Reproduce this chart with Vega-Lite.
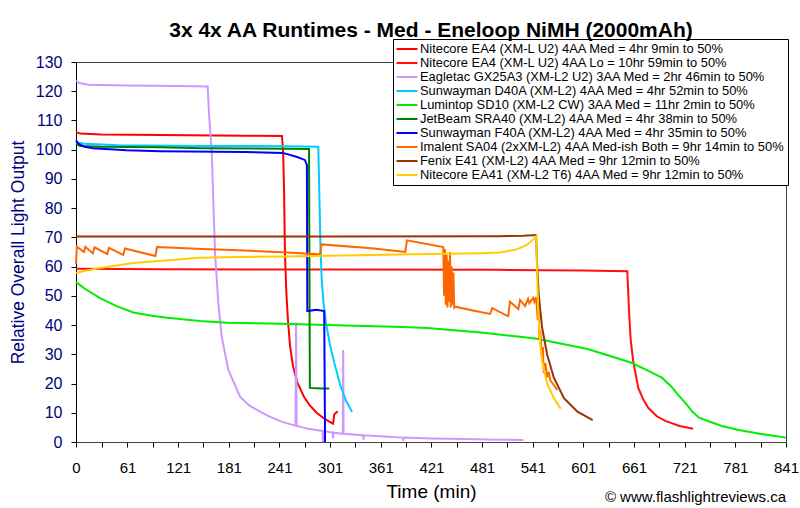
{
"$schema": "https://vega.github.io/schema/vega-lite/v6.json",
"width": 710, "height": 380,
"autosize": {"type": "none"},
"padding": {"left": 76, "top": 62, "right": 14, "bottom": 66},
"background": "#FFFFFF",
"config": {
  "font": "Liberation Sans",
  "view": {"stroke": "#444444", "strokeWidth": 1},
  "axis": {"grid": false, "domainColor": "#000000", "tickColor": "#000000", "labelFont": "Liberation Sans", "titleFont": "Liberation Sans", "titleFontWeight": "normal"}
},
"title": {"text": "3x 4x AA Runtimes - Med - Eneloop NiMH (2000mAh)", "fontSize": 21, "fontWeight": "bold", "font": "Liberation Sans", "color": "#000000", "anchor": "middle", "frame": "group", "offset": -2},
"datasets": {
"runs": [
{"s":"Nitecore EA4 (XM-L U2) 4AA Med = 4hr 9min to 50%","t":0,"v":106},
{"s":"Nitecore EA4 (XM-L U2) 4AA Med = 4hr 9min to 50%","t":5,"v":105.5},
{"s":"Nitecore EA4 (XM-L U2) 4AA Med = 4hr 9min to 50%","t":30,"v":105.2},
{"s":"Nitecore EA4 (XM-L U2) 4AA Med = 4hr 9min to 50%","t":100,"v":105},
{"s":"Nitecore EA4 (XM-L U2) 4AA Med = 4hr 9min to 50%","t":200,"v":104.8},
{"s":"Nitecore EA4 (XM-L U2) 4AA Med = 4hr 9min to 50%","t":244,"v":104.7},
{"s":"Nitecore EA4 (XM-L U2) 4AA Med = 4hr 9min to 50%","t":245.5,"v":98},
{"s":"Nitecore EA4 (XM-L U2) 4AA Med = 4hr 9min to 50%","t":246.5,"v":85},
{"s":"Nitecore EA4 (XM-L U2) 4AA Med = 4hr 9min to 50%","t":247.5,"v":65},
{"s":"Nitecore EA4 (XM-L U2) 4AA Med = 4hr 9min to 50%","t":249,"v":52},
{"s":"Nitecore EA4 (XM-L U2) 4AA Med = 4hr 9min to 50%","t":251,"v":42},
{"s":"Nitecore EA4 (XM-L U2) 4AA Med = 4hr 9min to 50%","t":253.5,"v":33},
{"s":"Nitecore EA4 (XM-L U2) 4AA Med = 4hr 9min to 50%","t":257,"v":26},
{"s":"Nitecore EA4 (XM-L U2) 4AA Med = 4hr 9min to 50%","t":262,"v":20.5},
{"s":"Nitecore EA4 (XM-L U2) 4AA Med = 4hr 9min to 50%","t":270,"v":15.5},
{"s":"Nitecore EA4 (XM-L U2) 4AA Med = 4hr 9min to 50%","t":277,"v":12.5},
{"s":"Nitecore EA4 (XM-L U2) 4AA Med = 4hr 9min to 50%","t":285,"v":10},
{"s":"Nitecore EA4 (XM-L U2) 4AA Med = 4hr 9min to 50%","t":293,"v":8.2},
{"s":"Nitecore EA4 (XM-L U2) 4AA Med = 4hr 9min to 50%","t":300,"v":7},
{"s":"Nitecore EA4 (XM-L U2) 4AA Med = 4hr 9min to 50%","t":304.5,"v":6.3},
{"s":"Nitecore EA4 (XM-L U2) 4AA Med = 4hr 9min to 50%","t":306,"v":9.5},
{"s":"Nitecore EA4 (XM-L U2) 4AA Med = 4hr 9min to 50%","t":308,"v":10},
{"s":"Nitecore EA4 (XM-L U2) 4AA Med = 4hr 9min to 50%","t":310,"v":10.5},
{"s":"Nitecore EA4 (XM-L U2) 4AA Lo = 10hr 59min to 50%","t":0,"v":59.3},
{"s":"Nitecore EA4 (XM-L U2) 4AA Lo = 10hr 59min to 50%","t":100,"v":59.1},
{"s":"Nitecore EA4 (XM-L U2) 4AA Lo = 10hr 59min to 50%","t":300,"v":59},
{"s":"Nitecore EA4 (XM-L U2) 4AA Lo = 10hr 59min to 50%","t":500,"v":58.9},
{"s":"Nitecore EA4 (XM-L U2) 4AA Lo = 10hr 59min to 50%","t":600,"v":58.7},
{"s":"Nitecore EA4 (XM-L U2) 4AA Lo = 10hr 59min to 50%","t":653,"v":58.4},
{"s":"Nitecore EA4 (XM-L U2) 4AA Lo = 10hr 59min to 50%","t":654,"v":52},
{"s":"Nitecore EA4 (XM-L U2) 4AA Lo = 10hr 59min to 50%","t":655,"v":45},
{"s":"Nitecore EA4 (XM-L U2) 4AA Lo = 10hr 59min to 50%","t":657,"v":35},
{"s":"Nitecore EA4 (XM-L U2) 4AA Lo = 10hr 59min to 50%","t":660,"v":27.7},
{"s":"Nitecore EA4 (XM-L U2) 4AA Lo = 10hr 59min to 50%","t":666,"v":18.5},
{"s":"Nitecore EA4 (XM-L U2) 4AA Lo = 10hr 59min to 50%","t":672,"v":14.5},
{"s":"Nitecore EA4 (XM-L U2) 4AA Lo = 10hr 59min to 50%","t":678,"v":11.6},
{"s":"Nitecore EA4 (XM-L U2) 4AA Lo = 10hr 59min to 50%","t":688,"v":8.8},
{"s":"Nitecore EA4 (XM-L U2) 4AA Lo = 10hr 59min to 50%","t":698,"v":7.2},
{"s":"Nitecore EA4 (XM-L U2) 4AA Lo = 10hr 59min to 50%","t":715,"v":5.5},
{"s":"Nitecore EA4 (XM-L U2) 4AA Lo = 10hr 59min to 50%","t":731,"v":4.5},
{"s":"Eagletac GX25A3 (XM-L2 U2) 3AA Med = 2hr 46min to 50%","t":0,"v":123.5},
{"s":"Eagletac GX25A3 (XM-L2 U2) 3AA Med = 2hr 46min to 50%","t":4,"v":122.8},
{"s":"Eagletac GX25A3 (XM-L2 U2) 3AA Med = 2hr 46min to 50%","t":15,"v":122.2},
{"s":"Eagletac GX25A3 (XM-L2 U2) 3AA Med = 2hr 46min to 50%","t":60,"v":122},
{"s":"Eagletac GX25A3 (XM-L2 U2) 3AA Med = 2hr 46min to 50%","t":120,"v":121.8},
{"s":"Eagletac GX25A3 (XM-L2 U2) 3AA Med = 2hr 46min to 50%","t":156,"v":121.6},
{"s":"Eagletac GX25A3 (XM-L2 U2) 3AA Med = 2hr 46min to 50%","t":157.6,"v":112},
{"s":"Eagletac GX25A3 (XM-L2 U2) 3AA Med = 2hr 46min to 50%","t":160.8,"v":99},
{"s":"Eagletac GX25A3 (XM-L2 U2) 3AA Med = 2hr 46min to 50%","t":164.7,"v":64.6},
{"s":"Eagletac GX25A3 (XM-L2 U2) 3AA Med = 2hr 46min to 50%","t":168.6,"v":47.5},
{"s":"Eagletac GX25A3 (XM-L2 U2) 3AA Med = 2hr 46min to 50%","t":172.6,"v":36},
{"s":"Eagletac GX25A3 (XM-L2 U2) 3AA Med = 2hr 46min to 50%","t":180.5,"v":24.6},
{"s":"Eagletac GX25A3 (XM-L2 U2) 3AA Med = 2hr 46min to 50%","t":194.3,"v":15.5},
{"s":"Eagletac GX25A3 (XM-L2 U2) 3AA Med = 2hr 46min to 50%","t":205,"v":12.5},
{"s":"Eagletac GX25A3 (XM-L2 U2) 3AA Med = 2hr 46min to 50%","t":218,"v":10.4},
{"s":"Eagletac GX25A3 (XM-L2 U2) 3AA Med = 2hr 46min to 50%","t":230,"v":8.6},
{"s":"Eagletac GX25A3 (XM-L2 U2) 3AA Med = 2hr 46min to 50%","t":245,"v":6.8},
{"s":"Eagletac GX25A3 (XM-L2 U2) 3AA Med = 2hr 46min to 50%","t":260,"v":5.6},
{"s":"Eagletac GX25A3 (XM-L2 U2) 3AA Med = 2hr 46min to 50%","t":260.7,"v":41},
{"s":"Eagletac GX25A3 (XM-L2 U2) 3AA Med = 2hr 46min to 50%","t":261.4,"v":5.5},
{"s":"Eagletac GX25A3 (XM-L2 U2) 3AA Med = 2hr 46min to 50%","t":275,"v":4.5},
{"s":"Eagletac GX25A3 (XM-L2 U2) 3AA Med = 2hr 46min to 50%","t":292,"v":3.8},
{"s":"Eagletac GX25A3 (XM-L2 U2) 3AA Med = 2hr 46min to 50%","t":292.5,"v":0},
{"s":"Eagletac GX25A3 (XM-L2 U2) 3AA Med = 2hr 46min to 50%","t":293,"v":3.8},
{"s":"Eagletac GX25A3 (XM-L2 U2) 3AA Med = 2hr 46min to 50%","t":304,"v":3.2},
{"s":"Eagletac GX25A3 (XM-L2 U2) 3AA Med = 2hr 46min to 50%","t":304.5,"v":1.2},
{"s":"Eagletac GX25A3 (XM-L2 U2) 3AA Med = 2hr 46min to 50%","t":305,"v":3.2},
{"s":"Eagletac GX25A3 (XM-L2 U2) 3AA Med = 2hr 46min to 50%","t":316,"v":2.8},
{"s":"Eagletac GX25A3 (XM-L2 U2) 3AA Med = 2hr 46min to 50%","t":316.5,"v":31.5},
{"s":"Eagletac GX25A3 (XM-L2 U2) 3AA Med = 2hr 46min to 50%","t":317,"v":2.8},
{"s":"Eagletac GX25A3 (XM-L2 U2) 3AA Med = 2hr 46min to 50%","t":340,"v":2.3},
{"s":"Eagletac GX25A3 (XM-L2 U2) 3AA Med = 2hr 46min to 50%","t":340.5,"v":0.8},
{"s":"Eagletac GX25A3 (XM-L2 U2) 3AA Med = 2hr 46min to 50%","t":341,"v":2.3},
{"s":"Eagletac GX25A3 (XM-L2 U2) 3AA Med = 2hr 46min to 50%","t":370,"v":1.8},
{"s":"Eagletac GX25A3 (XM-L2 U2) 3AA Med = 2hr 46min to 50%","t":387,"v":1.5},
{"s":"Eagletac GX25A3 (XM-L2 U2) 3AA Med = 2hr 46min to 50%","t":387.5,"v":0.5},
{"s":"Eagletac GX25A3 (XM-L2 U2) 3AA Med = 2hr 46min to 50%","t":388,"v":1.5},
{"s":"Eagletac GX25A3 (XM-L2 U2) 3AA Med = 2hr 46min to 50%","t":420,"v":1.2},
{"s":"Eagletac GX25A3 (XM-L2 U2) 3AA Med = 2hr 46min to 50%","t":460,"v":1},
{"s":"Eagletac GX25A3 (XM-L2 U2) 3AA Med = 2hr 46min to 50%","t":500,"v":0.8},
{"s":"Eagletac GX25A3 (XM-L2 U2) 3AA Med = 2hr 46min to 50%","t":530,"v":0.7},
{"s":"Sunwayman D40A (XM-L2) 4AA Med = 4hr 52min to 50%","t":0,"v":102.5},
{"s":"Sunwayman D40A (XM-L2) 4AA Med = 4hr 52min to 50%","t":10,"v":102},
{"s":"Sunwayman D40A (XM-L2) 4AA Med = 4hr 52min to 50%","t":50,"v":101.5},
{"s":"Sunwayman D40A (XM-L2) 4AA Med = 4hr 52min to 50%","t":150,"v":101.3},
{"s":"Sunwayman D40A (XM-L2) 4AA Med = 4hr 52min to 50%","t":250,"v":101.2},
{"s":"Sunwayman D40A (XM-L2) 4AA Med = 4hr 52min to 50%","t":287,"v":101},
{"s":"Sunwayman D40A (XM-L2) 4AA Med = 4hr 52min to 50%","t":288,"v":88},
{"s":"Sunwayman D40A (XM-L2) 4AA Med = 4hr 52min to 50%","t":289.5,"v":68},
{"s":"Sunwayman D40A (XM-L2) 4AA Med = 4hr 52min to 50%","t":291,"v":56},
{"s":"Sunwayman D40A (XM-L2) 4AA Med = 4hr 52min to 50%","t":293,"v":48},
{"s":"Sunwayman D40A (XM-L2) 4AA Med = 4hr 52min to 50%","t":296,"v":41},
{"s":"Sunwayman D40A (XM-L2) 4AA Med = 4hr 52min to 50%","t":301,"v":33},
{"s":"Sunwayman D40A (XM-L2) 4AA Med = 4hr 52min to 50%","t":306,"v":27},
{"s":"Sunwayman D40A (XM-L2) 4AA Med = 4hr 52min to 50%","t":313,"v":19.5},
{"s":"Sunwayman D40A (XM-L2) 4AA Med = 4hr 52min to 50%","t":320,"v":14},
{"s":"Sunwayman D40A (XM-L2) 4AA Med = 4hr 52min to 50%","t":327,"v":10.3},
{"s":"Lumintop SD10 (XM-L2 CW) 3AA Med = 11hr 2min to 50%","t":0,"v":54.7},
{"s":"Lumintop SD10 (XM-L2 CW) 3AA Med = 11hr 2min to 50%","t":10,"v":52.5},
{"s":"Lumintop SD10 (XM-L2 CW) 3AA Med = 11hr 2min to 50%","t":28,"v":49.3},
{"s":"Lumintop SD10 (XM-L2 CW) 3AA Med = 11hr 2min to 50%","t":48,"v":46.5},
{"s":"Lumintop SD10 (XM-L2 CW) 3AA Med = 11hr 2min to 50%","t":68,"v":44.3},
{"s":"Lumintop SD10 (XM-L2 CW) 3AA Med = 11hr 2min to 50%","t":90,"v":43.2},
{"s":"Lumintop SD10 (XM-L2 CW) 3AA Med = 11hr 2min to 50%","t":108,"v":42.5},
{"s":"Lumintop SD10 (XM-L2 CW) 3AA Med = 11hr 2min to 50%","t":147,"v":41.4},
{"s":"Lumintop SD10 (XM-L2 CW) 3AA Med = 11hr 2min to 50%","t":179,"v":40.8},
{"s":"Lumintop SD10 (XM-L2 CW) 3AA Med = 11hr 2min to 50%","t":230,"v":40.5},
{"s":"Lumintop SD10 (XM-L2 CW) 3AA Med = 11hr 2min to 50%","t":297,"v":40},
{"s":"Lumintop SD10 (XM-L2 CW) 3AA Med = 11hr 2min to 50%","t":387,"v":39.3},
{"s":"Lumintop SD10 (XM-L2 CW) 3AA Med = 11hr 2min to 50%","t":416,"v":39},
{"s":"Lumintop SD10 (XM-L2 CW) 3AA Med = 11hr 2min to 50%","t":480,"v":37.5},
{"s":"Lumintop SD10 (XM-L2 CW) 3AA Med = 11hr 2min to 50%","t":526,"v":36},
{"s":"Lumintop SD10 (XM-L2 CW) 3AA Med = 11hr 2min to 50%","t":546,"v":35.3},
{"s":"Lumintop SD10 (XM-L2 CW) 3AA Med = 11hr 2min to 50%","t":606,"v":31.8},
{"s":"Lumintop SD10 (XM-L2 CW) 3AA Med = 11hr 2min to 50%","t":658,"v":27.1},
{"s":"Lumintop SD10 (XM-L2 CW) 3AA Med = 11hr 2min to 50%","t":678,"v":24.3},
{"s":"Lumintop SD10 (XM-L2 CW) 3AA Med = 11hr 2min to 50%","t":694,"v":22},
{"s":"Lumintop SD10 (XM-L2 CW) 3AA Med = 11hr 2min to 50%","t":705,"v":19},
{"s":"Lumintop SD10 (XM-L2 CW) 3AA Med = 11hr 2min to 50%","t":713,"v":16.2},
{"s":"Lumintop SD10 (XM-L2 CW) 3AA Med = 11hr 2min to 50%","t":722,"v":13.3},
{"s":"Lumintop SD10 (XM-L2 CW) 3AA Med = 11hr 2min to 50%","t":730,"v":10.4},
{"s":"Lumintop SD10 (XM-L2 CW) 3AA Med = 11hr 2min to 50%","t":738,"v":8.3},
{"s":"Lumintop SD10 (XM-L2 CW) 3AA Med = 11hr 2min to 50%","t":750,"v":7},
{"s":"Lumintop SD10 (XM-L2 CW) 3AA Med = 11hr 2min to 50%","t":765,"v":5.5},
{"s":"Lumintop SD10 (XM-L2 CW) 3AA Med = 11hr 2min to 50%","t":785,"v":4.1},
{"s":"Lumintop SD10 (XM-L2 CW) 3AA Med = 11hr 2min to 50%","t":810,"v":2.8},
{"s":"Lumintop SD10 (XM-L2 CW) 3AA Med = 11hr 2min to 50%","t":841,"v":1.5},
{"s":"JetBeam SRA40 (XM-L2) 4AA Med = 4hr 38min to 50%","t":0,"v":102},
{"s":"JetBeam SRA40 (XM-L2) 4AA Med = 4hr 38min to 50%","t":5,"v":101.3},
{"s":"JetBeam SRA40 (XM-L2) 4AA Med = 4hr 38min to 50%","t":30,"v":101},
{"s":"JetBeam SRA40 (XM-L2) 4AA Med = 4hr 38min to 50%","t":100,"v":100.8},
{"s":"JetBeam SRA40 (XM-L2) 4AA Med = 4hr 38min to 50%","t":150,"v":100.5},
{"s":"JetBeam SRA40 (XM-L2) 4AA Med = 4hr 38min to 50%","t":250,"v":100.3},
{"s":"JetBeam SRA40 (XM-L2) 4AA Med = 4hr 38min to 50%","t":276,"v":100.2},
{"s":"JetBeam SRA40 (XM-L2) 4AA Med = 4hr 38min to 50%","t":277,"v":18.5},
{"s":"JetBeam SRA40 (XM-L2) 4AA Med = 4hr 38min to 50%","t":290,"v":18.3},
{"s":"JetBeam SRA40 (XM-L2) 4AA Med = 4hr 38min to 50%","t":300,"v":18.3},
{"s":"Sunwayman F40A (XM-L2) 4AA Med = 4hr 35min to 50%","t":0,"v":103.2},
{"s":"Sunwayman F40A (XM-L2) 4AA Med = 4hr 35min to 50%","t":3,"v":102},
{"s":"Sunwayman F40A (XM-L2) 4AA Med = 4hr 35min to 50%","t":10,"v":101},
{"s":"Sunwayman F40A (XM-L2) 4AA Med = 4hr 35min to 50%","t":20,"v":100.5},
{"s":"Sunwayman F40A (XM-L2) 4AA Med = 4hr 35min to 50%","t":60,"v":99.8},
{"s":"Sunwayman F40A (XM-L2) 4AA Med = 4hr 35min to 50%","t":100,"v":99.5},
{"s":"Sunwayman F40A (XM-L2) 4AA Med = 4hr 35min to 50%","t":200,"v":99.2},
{"s":"Sunwayman F40A (XM-L2) 4AA Med = 4hr 35min to 50%","t":245,"v":98.9},
{"s":"Sunwayman F40A (XM-L2) 4AA Med = 4hr 35min to 50%","t":262,"v":97.5},
{"s":"Sunwayman F40A (XM-L2) 4AA Med = 4hr 35min to 50%","t":271,"v":96.5},
{"s":"Sunwayman F40A (XM-L2) 4AA Med = 4hr 35min to 50%","t":273.5,"v":94.8},
{"s":"Sunwayman F40A (XM-L2) 4AA Med = 4hr 35min to 50%","t":274,"v":44.8},
{"s":"Sunwayman F40A (XM-L2) 4AA Med = 4hr 35min to 50%","t":285,"v":45.2},
{"s":"Sunwayman F40A (XM-L2) 4AA Med = 4hr 35min to 50%","t":294,"v":44.8},
{"s":"Sunwayman F40A (XM-L2) 4AA Med = 4hr 35min to 50%","t":295,"v":0},
{"s":"Imalent SA04 (2xXM-L2) 4AA Med-ish Both = 9hr 14min to 50%","t":0,"v":61},
{"s":"Imalent SA04 (2xXM-L2) 4AA Med-ish Both = 9hr 14min to 50%","t":1,"v":66.8},
{"s":"Imalent SA04 (2xXM-L2) 4AA Med-ish Both = 9hr 14min to 50%","t":9.5,"v":65},
{"s":"Imalent SA04 (2xXM-L2) 4AA Med-ish Both = 9hr 14min to 50%","t":11,"v":66.8},
{"s":"Imalent SA04 (2xXM-L2) 4AA Med-ish Both = 9hr 14min to 50%","t":20,"v":64.6},
{"s":"Imalent SA04 (2xXM-L2) 4AA Med-ish Both = 9hr 14min to 50%","t":22,"v":66.6},
{"s":"Imalent SA04 (2xXM-L2) 4AA Med-ish Both = 9hr 14min to 50%","t":37,"v":64.3},
{"s":"Imalent SA04 (2xXM-L2) 4AA Med-ish Both = 9hr 14min to 50%","t":39,"v":66.4},
{"s":"Imalent SA04 (2xXM-L2) 4AA Med-ish Both = 9hr 14min to 50%","t":56,"v":64},
{"s":"Imalent SA04 (2xXM-L2) 4AA Med-ish Both = 9hr 14min to 50%","t":58,"v":66.2},
{"s":"Imalent SA04 (2xXM-L2) 4AA Med-ish Both = 9hr 14min to 50%","t":94,"v":63.6},
{"s":"Imalent SA04 (2xXM-L2) 4AA Med-ish Both = 9hr 14min to 50%","t":96,"v":66.7},
{"s":"Imalent SA04 (2xXM-L2) 4AA Med-ish Both = 9hr 14min to 50%","t":150,"v":66},
{"s":"Imalent SA04 (2xXM-L2) 4AA Med-ish Both = 9hr 14min to 50%","t":200,"v":65.5},
{"s":"Imalent SA04 (2xXM-L2) 4AA Med-ish Both = 9hr 14min to 50%","t":250,"v":64.8},
{"s":"Imalent SA04 (2xXM-L2) 4AA Med-ish Both = 9hr 14min to 50%","t":289,"v":64.2},
{"s":"Imalent SA04 (2xXM-L2) 4AA Med-ish Both = 9hr 14min to 50%","t":291,"v":67.6},
{"s":"Imalent SA04 (2xXM-L2) 4AA Med-ish Both = 9hr 14min to 50%","t":350,"v":66.3},
{"s":"Imalent SA04 (2xXM-L2) 4AA Med-ish Both = 9hr 14min to 50%","t":390,"v":65},
{"s":"Imalent SA04 (2xXM-L2) 4AA Med-ish Both = 9hr 14min to 50%","t":392,"v":69},
{"s":"Imalent SA04 (2xXM-L2) 4AA Med-ish Both = 9hr 14min to 50%","t":435,"v":66.7},
{"s":"Imalent SA04 (2xXM-L2) 4AA Med-ish Both = 9hr 14min to 50%","t":436,"v":50},
{"s":"Imalent SA04 (2xXM-L2) 4AA Med-ish Both = 9hr 14min to 50%","t":437,"v":66},
{"s":"Imalent SA04 (2xXM-L2) 4AA Med-ish Both = 9hr 14min to 50%","t":438,"v":47},
{"s":"Imalent SA04 (2xXM-L2) 4AA Med-ish Both = 9hr 14min to 50%","t":439,"v":64},
{"s":"Imalent SA04 (2xXM-L2) 4AA Med-ish Both = 9hr 14min to 50%","t":440,"v":46},
{"s":"Imalent SA04 (2xXM-L2) 4AA Med-ish Both = 9hr 14min to 50%","t":441,"v":62},
{"s":"Imalent SA04 (2xXM-L2) 4AA Med-ish Both = 9hr 14min to 50%","t":442,"v":48},
{"s":"Imalent SA04 (2xXM-L2) 4AA Med-ish Both = 9hr 14min to 50%","t":443,"v":65},
{"s":"Imalent SA04 (2xXM-L2) 4AA Med-ish Both = 9hr 14min to 50%","t":444,"v":46},
{"s":"Imalent SA04 (2xXM-L2) 4AA Med-ish Both = 9hr 14min to 50%","t":445,"v":60},
{"s":"Imalent SA04 (2xXM-L2) 4AA Med-ish Both = 9hr 14min to 50%","t":446,"v":47},
{"s":"Imalent SA04 (2xXM-L2) 4AA Med-ish Both = 9hr 14min to 50%","t":447,"v":58},
{"s":"Imalent SA04 (2xXM-L2) 4AA Med-ish Both = 9hr 14min to 50%","t":448,"v":46},
{"s":"Imalent SA04 (2xXM-L2) 4AA Med-ish Both = 9hr 14min to 50%","t":449,"v":46.3},
{"s":"Imalent SA04 (2xXM-L2) 4AA Med-ish Both = 9hr 14min to 50%","t":470,"v":45},
{"s":"Imalent SA04 (2xXM-L2) 4AA Med-ish Both = 9hr 14min to 50%","t":490.5,"v":43.8},
{"s":"Imalent SA04 (2xXM-L2) 4AA Med-ish Both = 9hr 14min to 50%","t":493,"v":45.8},
{"s":"Imalent SA04 (2xXM-L2) 4AA Med-ish Both = 9hr 14min to 50%","t":512,"v":43},
{"s":"Imalent SA04 (2xXM-L2) 4AA Med-ish Both = 9hr 14min to 50%","t":514,"v":48},
{"s":"Imalent SA04 (2xXM-L2) 4AA Med-ish Both = 9hr 14min to 50%","t":524,"v":45.5},
{"s":"Imalent SA04 (2xXM-L2) 4AA Med-ish Both = 9hr 14min to 50%","t":526,"v":48.6},
{"s":"Imalent SA04 (2xXM-L2) 4AA Med-ish Both = 9hr 14min to 50%","t":532,"v":46.5},
{"s":"Imalent SA04 (2xXM-L2) 4AA Med-ish Both = 9hr 14min to 50%","t":535.5,"v":49},
{"s":"Imalent SA04 (2xXM-L2) 4AA Med-ish Both = 9hr 14min to 50%","t":537,"v":47.5},
{"s":"Imalent SA04 (2xXM-L2) 4AA Med-ish Both = 9hr 14min to 50%","t":541.5,"v":49.3},
{"s":"Imalent SA04 (2xXM-L2) 4AA Med-ish Both = 9hr 14min to 50%","t":543,"v":48},
{"s":"Imalent SA04 (2xXM-L2) 4AA Med-ish Both = 9hr 14min to 50%","t":545,"v":49.6},
{"s":"Imalent SA04 (2xXM-L2) 4AA Med-ish Both = 9hr 14min to 50%","t":547,"v":41.7},
{"s":"Imalent SA04 (2xXM-L2) 4AA Med-ish Both = 9hr 14min to 50%","t":548,"v":45},
{"s":"Imalent SA04 (2xXM-L2) 4AA Med-ish Both = 9hr 14min to 50%","t":549,"v":35},
{"s":"Imalent SA04 (2xXM-L2) 4AA Med-ish Both = 9hr 14min to 50%","t":550,"v":38},
{"s":"Imalent SA04 (2xXM-L2) 4AA Med-ish Both = 9hr 14min to 50%","t":552,"v":28},
{"s":"Imalent SA04 (2xXM-L2) 4AA Med-ish Both = 9hr 14min to 50%","t":553,"v":32.5},
{"s":"Imalent SA04 (2xXM-L2) 4AA Med-ish Both = 9hr 14min to 50%","t":554,"v":23.6},
{"s":"Imalent SA04 (2xXM-L2) 4AA Med-ish Both = 9hr 14min to 50%","t":556,"v":27},
{"s":"Imalent SA04 (2xXM-L2) 4AA Med-ish Both = 9hr 14min to 50%","t":558,"v":22},
{"s":"Imalent SA04 (2xXM-L2) 4AA Med-ish Both = 9hr 14min to 50%","t":560,"v":24},
{"s":"Imalent SA04 (2xXM-L2) 4AA Med-ish Both = 9hr 14min to 50%","t":562,"v":21},
{"s":"Imalent SA04 (2xXM-L2) 4AA Med-ish Both = 9hr 14min to 50%","t":566,"v":19.5},
{"s":"Imalent SA04 (2xXM-L2) 4AA Med-ish Both = 9hr 14min to 50%","t":570,"v":17.8},
{"s":"Fenix E41 (XM-L2) 4AA Med = 9hr 12min to 50%","t":0,"v":70.3},
{"s":"Fenix E41 (XM-L2) 4AA Med = 9hr 12min to 50%","t":100,"v":70.3},
{"s":"Fenix E41 (XM-L2) 4AA Med = 9hr 12min to 50%","t":300,"v":70.3},
{"s":"Fenix E41 (XM-L2) 4AA Med = 9hr 12min to 50%","t":500,"v":70.4},
{"s":"Fenix E41 (XM-L2) 4AA Med = 9hr 12min to 50%","t":530,"v":70.6},
{"s":"Fenix E41 (XM-L2) 4AA Med = 9hr 12min to 50%","t":545,"v":70.8},
{"s":"Fenix E41 (XM-L2) 4AA Med = 9hr 12min to 50%","t":546,"v":62},
{"s":"Fenix E41 (XM-L2) 4AA Med = 9hr 12min to 50%","t":548,"v":50.7},
{"s":"Fenix E41 (XM-L2) 4AA Med = 9hr 12min to 50%","t":552,"v":39.3},
{"s":"Fenix E41 (XM-L2) 4AA Med = 9hr 12min to 50%","t":558,"v":30},
{"s":"Fenix E41 (XM-L2) 4AA Med = 9hr 12min to 50%","t":566,"v":22},
{"s":"Fenix E41 (XM-L2) 4AA Med = 9hr 12min to 50%","t":578,"v":15},
{"s":"Fenix E41 (XM-L2) 4AA Med = 9hr 12min to 50%","t":594,"v":10.4},
{"s":"Fenix E41 (XM-L2) 4AA Med = 9hr 12min to 50%","t":612,"v":7.5},
{"s":"Nitecore EA41 (XM-L2 T6) 4AA Med = 9hr 12min to 50%","t":0,"v":57.8},
{"s":"Nitecore EA41 (XM-L2 T6) 4AA Med = 9hr 12min to 50%","t":10,"v":58.5},
{"s":"Nitecore EA41 (XM-L2 T6) 4AA Med = 9hr 12min to 50%","t":28,"v":59.5},
{"s":"Nitecore EA41 (XM-L2 T6) 4AA Med = 9hr 12min to 50%","t":68,"v":61.2},
{"s":"Nitecore EA41 (XM-L2 T6) 4AA Med = 9hr 12min to 50%","t":147,"v":63},
{"s":"Nitecore EA41 (XM-L2 T6) 4AA Med = 9hr 12min to 50%","t":179,"v":63.2},
{"s":"Nitecore EA41 (XM-L2 T6) 4AA Med = 9hr 12min to 50%","t":250,"v":63.5},
{"s":"Nitecore EA41 (XM-L2 T6) 4AA Med = 9hr 12min to 50%","t":350,"v":64},
{"s":"Nitecore EA41 (XM-L2 T6) 4AA Med = 9hr 12min to 50%","t":416,"v":64.3},
{"s":"Nitecore EA41 (XM-L2 T6) 4AA Med = 9hr 12min to 50%","t":480,"v":64.6},
{"s":"Nitecore EA41 (XM-L2 T6) 4AA Med = 9hr 12min to 50%","t":502,"v":64.8},
{"s":"Nitecore EA41 (XM-L2 T6) 4AA Med = 9hr 12min to 50%","t":522,"v":65.9},
{"s":"Nitecore EA41 (XM-L2 T6) 4AA Med = 9hr 12min to 50%","t":534,"v":67.4},
{"s":"Nitecore EA41 (XM-L2 T6) 4AA Med = 9hr 12min to 50%","t":541.8,"v":69.3},
{"s":"Nitecore EA41 (XM-L2 T6) 4AA Med = 9hr 12min to 50%","t":543.8,"v":70.2},
{"s":"Nitecore EA41 (XM-L2 T6) 4AA Med = 9hr 12min to 50%","t":545,"v":70.5},
{"s":"Nitecore EA41 (XM-L2 T6) 4AA Med = 9hr 12min to 50%","t":546,"v":60},
{"s":"Nitecore EA41 (XM-L2 T6) 4AA Med = 9hr 12min to 50%","t":547.5,"v":45},
{"s":"Nitecore EA41 (XM-L2 T6) 4AA Med = 9hr 12min to 50%","t":550,"v":33},
{"s":"Nitecore EA41 (XM-L2 T6) 4AA Med = 9hr 12min to 50%","t":552,"v":28},
{"s":"Nitecore EA41 (XM-L2 T6) 4AA Med = 9hr 12min to 50%","t":558,"v":20},
{"s":"Nitecore EA41 (XM-L2 T6) 4AA Med = 9hr 12min to 50%","t":566,"v":15},
{"s":"Nitecore EA41 (XM-L2 T6) 4AA Med = 9hr 12min to 50%","t":574,"v":11.4}
],
"notes": [{"note": "© www.flashlightreviews.ca"}]
},
"layer": [
{
  "data": {"name": "runs"},
  "mark": {"type": "line", "strokeWidth": 2, "interpolate": "linear"},
  "encoding": {
    "x": {"field": "t", "type": "quantitative",
      "scale": {"domain": [0, 841], "nice": false},
      "axis": {"values": [0,31,61,91,121,151,181,211,241,271,301,331,361,391,421,451,481,511,541,571,601,631,661,691,721,751,781,811,841],
        "labelExpr": "datum.value == 0 || (datum.value - 1) % 60 == 0 ? datum.label : ''",
        "labelFlush": false, "labelOverlap": false,
        "title": "Time (min)", "titleFontSize": 19, "titleColor": "#000000",
        "labelFontSize": 15, "labelColor": "#000000", "tickSize": 5, "labelPadding": 13, "titlePadding": 7,
        "domainColor": "#444444"}},
    "y": {"field": "v", "type": "quantitative",
      "scale": {"domain": [0, 130], "nice": false},
      "axis": {"values": [0,10,20,30,40,50,60,70,80,90,100,110,120,130], "labelOverlap": false,
        "title": "Relative Overall Light Output", "titleFontSize": 17.5, "titleColor": "#000080",
        "labelFontSize": 16, "labelColor": "#000080", "tickSize": 5, "labelPadding": 9, "titlePadding": 8}},
    "color": {"field": "s", "type": "nominal",
      "scale": {
        "domain": ["Nitecore EA4 (XM-L U2) 4AA Med = 4hr 9min to 50%","Nitecore EA4 (XM-L U2) 4AA Lo = 10hr 59min to 50%","Eagletac GX25A3 (XM-L2 U2) 3AA Med = 2hr 46min to 50%","Sunwayman D40A (XM-L2) 4AA Med = 4hr 52min to 50%","Lumintop SD10 (XM-L2 CW) 3AA Med = 11hr 2min to 50%","JetBeam SRA40 (XM-L2) 4AA Med = 4hr 38min to 50%","Sunwayman F40A (XM-L2) 4AA Med = 4hr 35min to 50%","Imalent SA04 (2xXM-L2) 4AA Med-ish Both = 9hr 14min to 50%","Fenix E41 (XM-L2) 4AA Med = 9hr 12min to 50%","Nitecore EA41 (XM-L2 T6) 4AA Med = 9hr 12min to 50%"],
        "range": ["#FF0000","#FF1010","#CC99FF","#00CCFF","#00EE00","#008000","#0000FF","#FF6600","#993300","#FFCC00"]},
      "legend": {"title": null, "orient": "none", "legendX": 317, "legendY": -23,
        "labelFontSize": 12.9, "labelFont": "Liberation Sans", "labelColor": "#000000", "labelLimit": 600,
        "symbolType": "M-1.75,0H1.75", "symbolSize": 144, "symbolStrokeWidth": 2, "symbolOffset": 4,
        "strokeColor": "#000000", "fillColor": "#FFFFFF", "padding": 3, "rowPadding": -0.3, "labelOffset": 6}}
  }
},
{
  "data": {"name": "notes"},
  "mark": {"type": "text", "align": "right", "baseline": "alphabetic", "fontSize": 15, "font": "Liberation Sans", "color": "#000000"},
  "encoding": {
    "x": {"datum": 841, "type": "quantitative",
      "axis": {"values": [0,31,61,91,121,151,181,211,241,271,301,331,361,391,421,451,481,511,541,571,601,631,661,691,721,751,781,811,841],
        "labelExpr": "datum.value == 0 || (datum.value - 1) % 60 == 0 ? datum.label : ''",
        "labelFlush": false, "labelOverlap": false,
        "title": "Time (min)", "titleFontSize": 19, "titleColor": "#000000",
        "labelFontSize": 15, "labelColor": "#000000", "tickSize": 5, "labelPadding": 13, "titlePadding": 7,
        "domainColor": "#444444"}},
    "y": {"datum": -20.5, "type": "quantitative",
      "axis": {"values": [0,10,20,30,40,50,60,70,80,90,100,110,120,130], "labelOverlap": false,
        "title": "Relative Overall Light Output", "titleFontSize": 17.5, "titleColor": "#000080",
        "labelFontSize": 16, "labelColor": "#000080", "tickSize": 5, "labelPadding": 9, "titlePadding": 8}},
    "text": {"field": "note"}
  }
}
]
}
